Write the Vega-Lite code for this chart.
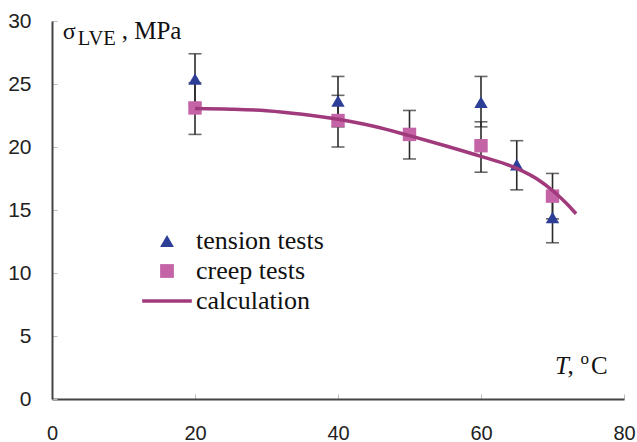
{
  "$schema": "https://vega.github.io/schema/vega-lite/v6.json",
  "width": 572,
  "height": 378,
  "autosize": "none",
  "padding": {"left": 52, "top": 21, "right": 13, "bottom": 43},
  "background": "white",
  "config": {
    "view": {"stroke": null},
    "axis": {"grid": false},
    "legend": {"labelFont": "Liberation Serif", "labelFontSize": 26, "labelColor": "#111111", "padding": 0, "rowPadding": 4, "labelOffset": 16, "symbolSize": 190, "symbolOpacity": 1}
  },
  "datasets": {
    "tests": [
      {"series": "tension tests", "T": 20, "stress": 25.4, "low": 23.4, "high": 27.4},
      {"series": "tension tests", "T": 40, "stress": 23.65, "low": 21.6, "high": 25.6},
      {"series": "tension tests", "T": 60, "stress": 23.55, "low": 21.6, "high": 25.6},
      {"series": "tension tests", "T": 65, "stress": 18.6, "low": 16.6, "high": 20.5},
      {"series": "tension tests", "T": 70, "stress": 14.4, "low": 12.4, "high": 16.4},
      {"series": "creep tests", "T": 20, "stress": 23.1, "low": 21.0, "high": 25.1},
      {"series": "creep tests", "T": 40, "stress": 22.1, "low": 20.0, "high": 24.1},
      {"series": "creep tests", "T": 50, "stress": 21.0, "low": 19.05, "high": 22.9},
      {"series": "creep tests", "T": 60, "stress": 20.1, "low": 18.0, "high": 22.0},
      {"series": "creep tests", "T": 70, "stress": 16.1, "low": 14.3, "high": 17.9}
    ],
    "calc": [
      {"T": 20, "stress": 23.05},
      {"T": 25, "stress": 23.0},
      {"T": 30, "stress": 22.88},
      {"T": 35, "stress": 22.6},
      {"T": 40, "stress": 22.2},
      {"T": 45, "stress": 21.65},
      {"T": 50, "stress": 20.9},
      {"T": 55, "stress": 20.1},
      {"T": 60, "stress": 19.25},
      {"T": 65, "stress": 18.3},
      {"T": 68, "stress": 17.4},
      {"T": 70, "stress": 16.55},
      {"T": 72, "stress": 15.5},
      {"T": 73.3, "stress": 14.7}
    ]
  },
  "layer": [
    {
      "data": {"name": "tests"},
      "mark": {"type": "rule", "color": "#2a2a2a", "strokeWidth": 1.6},
      "encoding": {
        "x": {
          "field": "T", "type": "quantitative",
          "scale": {"domain": [0, 80], "nice": false, "zero": false},
          "axis": {"values": [0, 20, 40, 60, 80], "title": null, "domainColor": "#444444", "domainWidth": 2, "tickColor": "#bbbbbb", "tickSize": -5, "tickWidth": 1, "labelFont": "Liberation Sans", "labelFontSize": 20, "labelColor": "#222222", "labelPadding": 29, "labelFlush": false}
        },
        "y": {
          "field": "low", "type": "quantitative",
          "scale": {"domain": [0, 30], "nice": false},
          "axis": {"values": [0, 5, 10, 15, 20, 25, 30], "title": null, "domainColor": "#444444", "domainWidth": 2, "tickColor": "#bbbbbb", "tickSize": -5, "tickWidth": 1, "labelFont": "Liberation Sans", "labelFontSize": 21, "labelColor": "#222222", "labelPadding": 26, "labelFlush": false}
        },
        "y2": {"field": "high"}
      }
    },
    {
      "data": {"name": "tests"},
      "mark": {"type": "tick", "orient": "horizontal", "color": "#2a2a2a", "thickness": 1.6, "size": 13},
      "encoding": {
        "x": {"field": "T", "type": "quantitative"},
        "y": {"field": "low", "type": "quantitative"}
      }
    },
    {
      "data": {"name": "tests"},
      "mark": {"type": "tick", "orient": "horizontal", "color": "#2a2a2a", "thickness": 1.6, "size": 13},
      "encoding": {
        "x": {"field": "T", "type": "quantitative"},
        "y": {"field": "high", "type": "quantitative"}
      }
    },
    {
      "data": {"name": "tests"},
      "mark": {"type": "point", "filled": true, "opacity": 1, "size": 180},
      "encoding": {
        "x": {"field": "T", "type": "quantitative"},
        "y": {"field": "stress", "type": "quantitative"},
        "color": {
          "field": "series", "type": "nominal",
          "scale": {"domain": ["tension tests", "creep tests", "calculation"], "range": ["#2D3E96", "#C464A7", "#A03A7C"]},
          "legend": {"title": null, "orient": "none", "legendX": 102, "legendY": 207, "labelFont": "Liberation Serif", "labelFontSize": 26,
            "encode": {"labels": {"update": {"font": {"value": "Liberation Serif"}, "fontSize": {"value": 26}}}, "symbols": {"update": {"stroke": {"value": "#A03A7C"}, "strokeWidth": {"signal": "datum.value === 'calculation' ? 3.5 : 0"}}}}}
        },
        "shape": {
          "field": "series", "type": "nominal",
          "scale": {"domain": ["tension tests", "creep tests", "calculation"], "range": ["triangle-up", "square", "M-3.6,0H3.6"]},
          "legend": {"title": null, "orient": "none", "legendX": 102, "legendY": 207, "labelFont": "Liberation Serif", "labelFontSize": 26,
            "encode": {"labels": {"update": {"font": {"value": "Liberation Serif"}, "fontSize": {"value": 26}}}, "symbols": {"update": {"stroke": {"value": "#A03A7C"}, "strokeWidth": {"signal": "datum.value === 'calculation' ? 3.5 : 0"}}}}}
        }
      }
    },
    {
      "data": {"name": "calc"},
      "mark": {"type": "line", "color": "#A03A7C", "strokeWidth": 3.5, "interpolate": "monotone"},
      "encoding": {
        "x": {"field": "T", "type": "quantitative"},
        "y": {"field": "stress", "type": "quantitative"}
      }
    },
    {
      "data": {"values": [{"t": "σ"}]},
      "mark": {"type": "text", "font": "Liberation Serif", "fontSize": 24, "align": "left", "baseline": "alphabetic", "color": "#111111"},
      "encoding": {"x": {"datum": 1.5}, "y": {"datum": 28.57}, "text": {"field": "t"}}
    },
    {
      "data": {"values": [{"t": "LVE"}]},
      "mark": {"type": "text", "font": "Liberation Serif", "fontSize": 20.5, "align": "left", "baseline": "alphabetic", "color": "#111111"},
      "encoding": {"x": {"datum": 3.6}, "y": {"datum": 28.1}, "text": {"field": "t"}}
    },
    {
      "data": {"values": [{"t": ", MPa"}]},
      "mark": {"type": "text", "font": "Liberation Serif", "fontSize": 25, "align": "left", "baseline": "alphabetic", "color": "#111111"},
      "encoding": {"x": {"datum": 9.75}, "y": {"datum": 28.57}, "text": {"field": "t"}}
    },
    {
      "data": {"values": [{"t": "T"}]},
      "mark": {"type": "text", "font": "Liberation Serif", "fontSize": 25, "fontStyle": "italic", "align": "left", "baseline": "alphabetic", "color": "#111111"},
      "encoding": {"x": {"datum": 70.35}, "y": {"datum": 1.98}, "text": {"field": "t"}}
    },
    {
      "data": {"values": [{"t": ","}]},
      "mark": {"type": "text", "font": "Liberation Serif", "fontSize": 25, "align": "left", "baseline": "alphabetic", "color": "#111111"},
      "encoding": {"x": {"datum": 72.1}, "y": {"datum": 1.98}, "text": {"field": "t"}}
    },
    {
      "data": {"values": [{"t": "o"}]},
      "mark": {"type": "text", "font": "Liberation Serif", "fontSize": 17, "align": "left", "baseline": "alphabetic", "color": "#111111"},
      "encoding": {"x": {"datum": 73.9}, "y": {"datum": 2.75}, "text": {"field": "t"}}
    },
    {
      "data": {"values": [{"t": "C"}]},
      "mark": {"type": "text", "font": "Liberation Serif", "fontSize": 25, "align": "left", "baseline": "alphabetic", "color": "#111111"},
      "encoding": {"x": {"datum": 75.4}, "y": {"datum": 1.98}, "text": {"field": "t"}}
    }
  ]
}
